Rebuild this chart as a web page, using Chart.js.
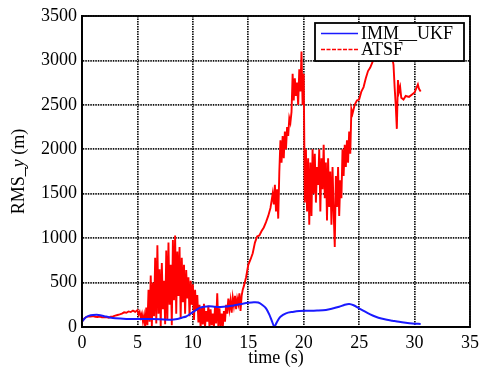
<!DOCTYPE html>
<html>
<head>
<meta charset="utf-8">
<script src="https://cdn.jsdelivr.net/npm/chart.js@4/dist/chart.umd.min.js"></script>
<style>
  html, body { margin: 0; padding: 0; background: #fff; }
</style>
</head>
<body>
<canvas id="rms" width="484" height="369"></canvas>
<script>
/* ── data ───────────────────────────────────────────────── */
const X_MIN = 0, X_MAX = 35, X_STEP = 5;
const Y_MIN = 0, Y_MAX = 3500, Y_STEP = 500;
const SERIES_NAMES = ['IMM__UKF', 'ATSF'];

// IMM__UKF : [time (s), RMS_y (m)]
const immUkf = [
  [0, 60], [0.3, 105], [0.6, 125], [1, 135], [1.5, 136], [2, 122], [2.5, 108],
  [3, 98], [4, 91], [5, 90], [6, 89], [7, 88], [8, 82], [8.6, 90], [9, 105],
  [9.4, 118], [9.8, 150], [10.2, 183], [10.6, 215], [11, 228], [11.5, 234],
  [12, 228], [12.5, 226], [13, 230], [13.5, 240], [14, 250], [14.5, 262],
  [15, 272], [15.5, 278], [15.9, 275], [16.3, 245], [16.6, 210], [16.9, 140],
  [17.15, 60], [17.35, 5], [17.6, 60], [17.9, 115], [18.4, 154], [19, 170],
  [19.6, 180], [20.5, 182], [21.2, 185], [22, 192], [22.6, 208], [23.2, 228],
  [23.7, 250], [24.1, 259], [24.5, 245], [25, 210], [25.5, 175], [26, 143],
  [26.5, 116], [27, 96], [27.5, 82], [28, 71], [28.6, 58], [29.2, 48],
  [29.8, 40], [30.55, 34]
];

// ATSF : [time (s), RMS_y (m)]
const atsf = [
  [0, 60], [0.2, 95], [0.4, 115], [0.6, 120], [0.8, 118], [1, 122], [1.2, 115],
  [1.4, 112], [1.6, 118], [1.8, 110], [2, 108], [2.2, 112], [2.4, 105], [2.6, 115],
  [2.8, 120], [3, 128], [3.2, 135], [3.4, 142], [3.6, 150], [3.8, 165], [4, 160],
  [4.2, 175], [4.4, 168], [4.6, 185], [4.8, 170], [5, 190], [5.1, 140], [5.2, 170],
  [5.3, 110], [5.4, 150], [5.5, 60], [5.6, 130],
  [5.7, 0], [5.8, 220], [5.9, 20], [6.0, 420], [6.1, 60], [6.2, 580], [6.3, 10],
  [6.4, 500], [6.5, 120], [6.6, 780], [6.7, 40], [6.8, 920], [6.9, 150], [7.0, 650],
  [7.1, 10], [7.2, 720], [7.3, 200], [7.4, 520], [7.5, 30], [7.6, 860], [7.7, 80],
  [7.8, 950], [7.9, 250], [8.0, 700], [8.1, 20], [8.2, 980], [8.3, 300], [8.4, 1030],
  [8.5, 150], [8.6, 850], [8.7, 350], [8.8, 900], [8.9, 100], [9.0, 780], [9.1, 280],
  [9.2, 700], [9.3, 150], [9.4, 640], [9.5, 320], [9.6, 560], [9.7, 120], [9.8, 520],
  [9.9, 250], [10.0, 480], [10.1, 80], [10.2, 420], [10.3, 180], [10.4, 360], [10.5, 50],
  [10.6, 250], [10.7, 0], [10.8, 220], [10.9, 30], [11.0, 260], [11.1, 0], [11.2, 180],
  [11.3, 60], [11.4, 240], [11.5, 0], [11.6, 200], [11.7, 20], [11.8, 150], [11.9, 0],
  [12.0, 230], [12.1, 40], [12.2, 380], [12.3, 0], [12.4, 210], [12.5, 10], [12.6, 150],
  [12.7, 0], [12.8, 180], [12.9, 60], [13.0, 250], [13.1, 150], [13.2, 320], [13.3, 200],
  [13.4, 300], [13.5, 160], [13.6, 330], [13.7, 240], [13.8, 350], [13.9, 200], [14.0, 320],
  [14.1, 260], [14.2, 380], [14.3, 180], [14.4, 350],
  [14.5, 420], [14.6, 460], [14.8, 560], [15.0, 700], [15.2, 760], [15.4, 830], [15.6, 950],
  [15.8, 1020], [16.0, 1030], [16.2, 1080], [16.4, 1120], [16.6, 1180], [16.8, 1250],
  [17.0, 1340], [17.1, 1420], [17.2, 1500], [17.3, 1380], [17.4, 1600], [17.5, 1300],
  [17.6, 1550], [17.7, 1220], [17.8, 1750], [17.9, 2100], [18.0, 1850], [18.1, 2150],
  [18.2, 1900], [18.3, 2200], [18.4, 2000], [18.5, 2250], [18.6, 2150], [18.7, 2350],
  [18.8, 2300], [18.9, 2420], [19.0, 2850], [19.1, 2550], [19.2, 2800], [19.3, 2600],
  [19.4, 2750], [19.5, 2500], [19.6, 2900], [19.7, 2650], [19.8, 3100], [19.9, 2500],
  [20.0, 2850], [20.1, 1400],
  [20.2, 2000], [20.3, 1300], [20.4, 1900], [20.5, 1150], [20.6, 1850], [20.7, 1250],
  [20.8, 2000], [20.9, 1500], [21.0, 1950], [21.1, 1400], [21.2, 1800], [21.3, 1600],
  [21.4, 2000], [21.5, 1300], [21.6, 1900], [21.7, 1550], [21.8, 2050], [21.9, 1450],
  [22.0, 1850], [22.1, 1200], [22.2, 1900], [22.3, 1350], [22.4, 1750], [22.5, 1150],
  [22.6, 1800], [22.7, 1300], [22.8, 900], [22.9, 1700], [23.0, 1350], [23.1, 1800],
  [23.2, 1250], [23.3, 1650], [23.4, 1450], [23.5, 2000], [23.6, 1700], [23.7, 2050],
  [23.8, 1800], [23.9, 2100], [24.0, 1850], [24.1, 2200], [24.2, 1950], [24.3, 2450],
  [24.4, 2400], [24.6, 2500], [24.8, 2550], [25.0, 2560], [25.2, 2650], [25.4, 2700],
  [25.6, 2800], [25.8, 2880], [26.0, 2920], [26.2, 2980], [26.4, 3080], [26.6, 3200],
  [27.0, 3300], [27.5, 3250], [27.9, 3100], [28.1, 2950], [28.2, 2700], [28.3, 2500],
  [28.4, 2230], [28.5, 2780], [28.6, 2650], [28.7, 2700], [28.8, 2580], [29.0, 2560],
  [29.2, 2600], [29.5, 2590], [29.8, 2620], [30.0, 2640], [30.2, 2700], [30.3, 2730],
  [30.4, 2680], [30.55, 2650]
];

const COLORS = ['#1a1aff', '#ff0000'];
const FONT = '"Liberation Serif", "Times New Roman", serif';

const toPoints = arr => arr.map(([x, y]) => ({ x, y }));

/* ── plugins: boxed frame, inset legend, y title ───────── */
const frame = {
  id: 'frame',
  afterDraw(chart) {
    const { ctx, chartArea: a } = chart;
    ctx.save();
    ctx.strokeStyle = '#000';
    ctx.lineWidth = 1.8;
    ctx.strokeRect(a.left, a.top, a.right - a.left, a.bottom - a.top);
    ctx.restore();
  },
};

const insetLegend = {
  id: 'insetLegend',
  afterDatasetsDraw(chart) {
    const { ctx, chartArea: a } = chart;
    const w = 149, h = 38;
    const x = a.right - 6 - w, y = a.top + 7;
    ctx.save();
    ctx.fillStyle = '#fff';
    ctx.fillRect(x, y, w, h);
    ctx.strokeStyle = '#000';
    ctx.lineWidth = 1.8;
    ctx.strokeRect(x, y, w, h);
    ctx.font = `18px ${FONT}`;
    ctx.textBaseline = 'middle';
    SERIES_NAMES.forEach((name, i) => {
      const ly = y + 10.5 + i * 16;
      ctx.strokeStyle = COLORS[i];
      ctx.lineWidth = 1.5;
      ctx.setLineDash(i === 1 ? [4, 1.5] : []);
      ctx.beginPath();
      ctx.moveTo(x + 6, ly);
      ctx.lineTo(x + 43, ly);
      ctx.stroke();
      ctx.setLineDash([]);
      ctx.fillStyle = '#000';
      ctx.fillText(name, x + 46, ly + 1);
    });
    ctx.restore();
  },
};

const yTitle = {
  id: 'yTitle',
  afterDraw(chart) {
    const { ctx, chartArea: a } = chart;
    const parts = [['RMS_', 'normal'], ['y', 'italic'], [' (m)', 'normal']];
    ctx.save();
    ctx.translate(19, (a.top + a.bottom) / 2);
    ctx.rotate(-Math.PI / 2);
    ctx.fillStyle = '#000';
    ctx.textBaseline = 'middle';
    let total = 0;
    parts.forEach(([t, s]) => { ctx.font = `${s} 18px ${FONT}`; total += ctx.measureText(t).width; });
    let cx = -total / 2;
    parts.forEach(([t, s]) => {
      ctx.font = `${s} 18px ${FONT}`;
      ctx.fillText(t, cx, 0);
      cx += ctx.measureText(t).width;
    });
    ctx.restore();
  },
};

/* ── chart ─────────────────────────────────────────────── */
const gridStyle = { color: '#111', lineWidth: 1.7, drawTicks: false };
const borderStyle = { display: true, color: '#000', width: 1.8, dash: [1.5, 1] };
const tickFont = { family: FONT, size: 18 };

new Chart(document.getElementById('rms').getContext('2d'), {
  type: 'line',
  data: {
    datasets: [
      {
        label: SERIES_NAMES[0],
        data: toPoints(immUkf),
        borderColor: COLORS[0],
        borderWidth: 2,
        pointRadius: 0,
        tension: 0.3,
      },
      {
        label: SERIES_NAMES[1],
        data: toPoints(atsf),
        borderColor: COLORS[1],
        borderWidth: 1.9,
        pointRadius: 0,
        tension: 0,
      },
    ],
  },
  options: {
    responsive: false,
    animation: false,
    layout: { padding: { left: 0, right: 12, top: 16, bottom: 0 } },
    plugins: {
      legend: { display: false },
      tooltip: { enabled: false },
    },
    scales: {
      x: {
        type: 'linear',
        min: X_MIN, max: X_MAX,
        afterFit: s => { s.height = 42; },
        ticks: { stepSize: X_STEP, color: '#000', padding: 5, font: tickFont, callback: v => String(v) },
        grid: gridStyle,
        border: borderStyle,
        title: {
          display: true, text: 'time (s)', color: '#000',
          font: tickFont, padding: { top: 0, bottom: 0 },
        },
      },
      y: {
        type: 'linear',
        min: Y_MIN, max: Y_MAX,
        afterFit: s => { s.width = 82; },
        ticks: { stepSize: Y_STEP, color: '#000', padding: 5, font: tickFont, callback: v => String(v) },
        grid: gridStyle,
        border: borderStyle,
      },
    },
  },
  plugins: [insetLegend, frame, yTitle],
});
</script>
</body>
</html>
